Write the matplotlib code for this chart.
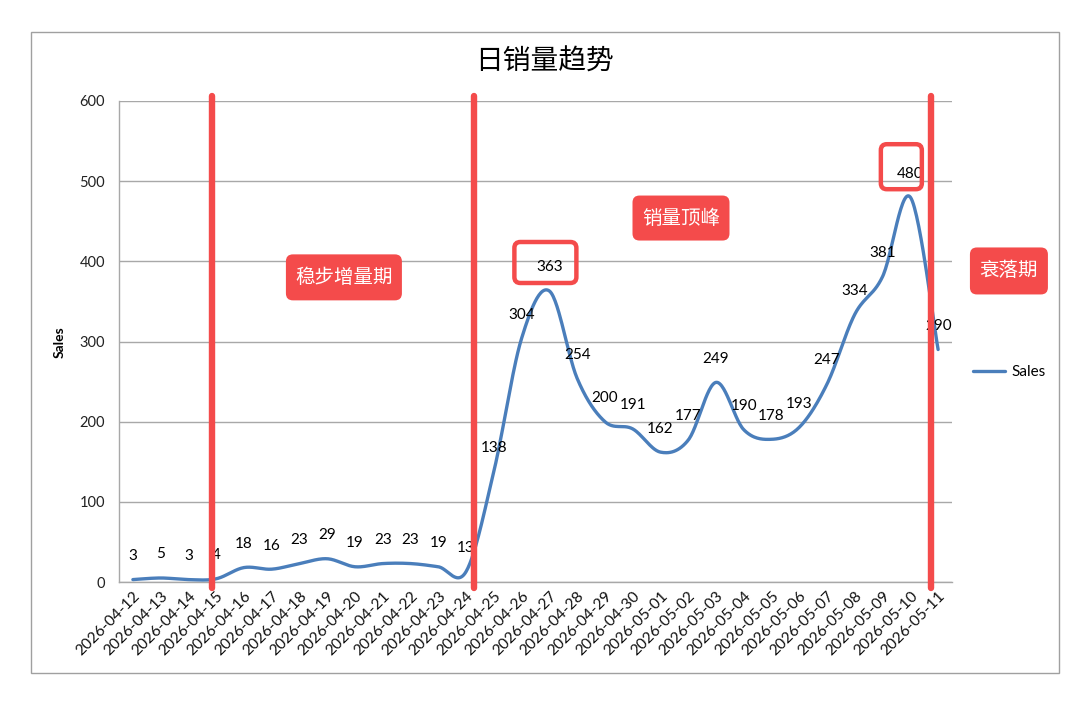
import numpy as np
import matplotlib
matplotlib.use("Agg")
import matplotlib.pyplot as plt
from matplotlib.patches import FancyBboxPatch, Rectangle
from matplotlib.transforms import IdentityTransform

plt.rcParams['font.family'] = ['Lato', 'Noto Sans CJK SC', 'DejaVu Sans']

# ---------------- data ----------------
dates = ["2026-04-12", "2026-04-13", "2026-04-14", "2026-04-15", "2026-04-16",
         "2026-04-17", "2026-04-18", "2026-04-19", "2026-04-20", "2026-04-21",
         "2026-04-22", "2026-04-23", "2026-04-24", "2026-04-25", "2026-04-26",
         "2026-04-27", "2026-04-28", "2026-04-29", "2026-04-30", "2026-05-01",
         "2026-05-02", "2026-05-03", "2026-05-04", "2026-05-05", "2026-05-06",
         "2026-05-07", "2026-05-08", "2026-05-09", "2026-05-10", "2026-05-11"]
sales = [3, 5, 3, 4, 18, 16, 23, 29, 19, 23, 23, 19, 13, 138, 304,
         363, 254, 200, 191, 162, 177, 249, 190, 178, 193, 247, 334, 381, 480, 290]
y_ticks = [0, 100, 200, 300, 400, 500, 600]

title = "日销量趋势"
series_name = "Sales"
y_label = "Sales"

# phase boundaries (category-axis positions) and phase labels
phase_bounds = [2.85, 12.28, 28.74]
phase_labels = ["稳步增量期", "销量顶峰", "衰落期"]
phase_label_pos = [(7.6, 380), (19.74, 454), (31.55, 388)]
phase_box_px = [(116, 46), (97, 45), (78, 47)]
highlight_idx = [15, 28]

BLUE = "#4A7EBB"
RED = "#F44B4B"
GRID = "#A8A8A8"

# ---------------- figure ----------------
fig = plt.figure(figsize=(10.8, 7.11), dpi=100)
fig.patch.set_facecolor("white")
fig.add_artist(Rectangle((31 / 1080, 1 - 673 / 711), (1059 - 31) / 1080, (673 - 32) / 711,
                         transform=fig.transFigure, fill=False, ec="#A0A0A0", lw=1.0))

ax = fig.add_axes([119 / 1080, 1 - 582 / 711, (952 - 119) / 1080, (582 - 101) / 711])
n = len(sales)
x = np.arange(n)
ax.set_xlim(-0.5, n - 0.5)
ax.set_ylim(0, 600)

# smoothed line (Catmull-Rom style bezier like Excel)
pts = np.column_stack([x, np.array(sales, dtype=float)])
ext = np.vstack([pts[0], pts, pts[-1]])
curve = []
t = np.linspace(0, 1, 30)
for i in range(n - 1):
    p0, p1, p2, p3 = ext[i], ext[i + 1], ext[i + 2], ext[i + 3]
    c1 = p1 + (p2 - p0) / 6.0
    c2 = p2 - (p3 - p1) / 6.0
    seg = ((1 - t) ** 3)[:, None] * p1 + (3 * (1 - t) ** 2 * t)[:, None] * c1 + \
          (3 * (1 - t) * t ** 2)[:, None] * c2 + (t ** 3)[:, None] * p2
    curve.append(seg if i == 0 else seg[1:])
curve = np.vstack(curve)
ax.plot(curve[:, 0], curve[:, 1], color=BLUE, lw=2.4, solid_capstyle="round",
        label=series_name, zorder=3)

# data labels
for xi, v in zip(x, sales):
    ax.annotate(str(v), (xi, v), xytext=(0, 17), textcoords="offset points",
                ha="center", va="center", fontsize=11, color="black", zorder=4)

# axes styling
ax.set_yticks(y_ticks)
ax.set_yticklabels([str(v) for v in y_ticks], fontsize=10.5, color="#222222")
ax.set_xticks(x)
ax.set_xticklabels(dates, rotation=45, ha="right", va="top",
                   rotation_mode="anchor", fontsize=11.2, color="#111111")
ax.tick_params(axis="both", length=0)
ax.tick_params(axis="y", pad=10)
ax.tick_params(axis="x", pad=5)
ax.grid(axis="y", color=GRID, lw=1.0)
ax.set_axisbelow(True)
for s in ["top", "right"]:
    ax.spines[s].set_visible(False)
for s in ["left", "bottom"]:
    ax.spines[s].set_color(GRID)
    ax.spines[s].set_linewidth(1.0)

fig.text(60 / 1080, 1 - 342 / 711, y_label, rotation=90, ha="center", va="center",
         fontsize=10, fontweight="bold", color="black")

fig.text(545 / 1080, 1 - 62 / 711, title, ha="center", va="center", fontsize=20,
         family=["Noto Sans CJK SC"], color="black")

leg = ax.legend(loc="center left", bbox_to_anchor=(1.025, 0.4366), frameon=False,
                borderaxespad=0, borderpad=0, handlelength=2.1, handletextpad=0.4,
                fontsize=11)

# phase separator lines
for b in phase_bounds:
    ax.plot([b, b], [-7.5, 606], color=RED, lw=4.6, solid_capstyle="round",
            clip_on=False, zorder=6)

fig.canvas.draw()

# phase label boxes and text (drawn above the axes)
for lab, (px, py), (bw, bh) in zip(phase_labels, phase_label_pos, phase_box_px):
    cx, cy = ax.transData.transform((px, py))
    fig.add_artist(FancyBboxPatch((cx - bw / 2, cy - bh / 2), bw, bh,
                                  boxstyle="round,pad=0,rounding_size=7",
                                  transform=IdentityTransform(), fc=RED, ec="none",
                                  zorder=7))
    fig.text(cx, cy, lab, ha="center", va="center", fontsize=14, color="white",
             family=["Noto Sans CJK SC"], zorder=9, transform=IdentityTransform())

# highlight boxes around peak labels
for hi in highlight_idx:
    cx, cy = ax.transData.transform((hi, sales[hi]))
    w, h = (62, 41) if hi == 15 else (41, 45)
    dx = -4 if hi == 15 else -9
    bx = cx + dx - w / 2
    by = cy + 8
    fig.add_artist(FancyBboxPatch((bx, by), w, h, boxstyle="round,pad=0,rounding_size=6",
                                  transform=IdentityTransform(), fill=False, ec=RED,
                                  lw=3.2, zorder=8))

fig.savefig("out.png", dpi=100)
